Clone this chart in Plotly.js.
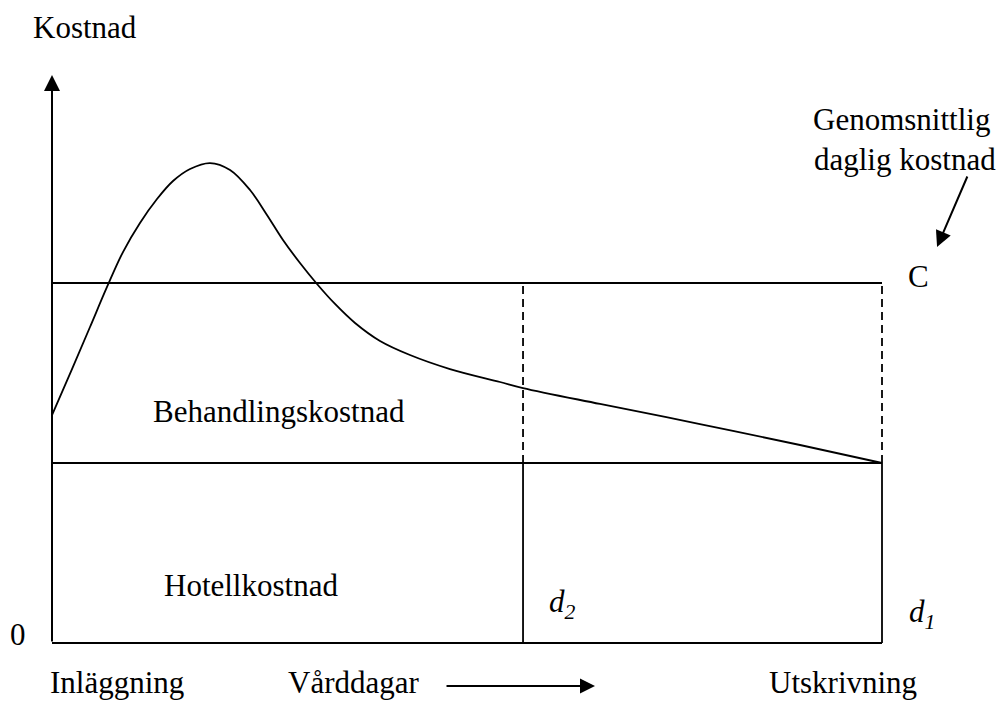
<!DOCTYPE html>
<html>
<head>
<meta charset="utf-8">
<script src="https://cdn.plot.ly/plotly-3.0.1.min.js"></script>
<style>html,body{margin:0;padding:0;background:#fff;}#chart{width:1000px;height:702px;}</style>
</head>
<body>
<div id="chart"></div>
<script>
// ---- data (schematic units: days on x, cost on y) ----
var curveDays = [0, 0.241, 0.458, 0.663, 0.855, 1.060, 1.265, 1.458, 1.663, 1.904, 2.145, 2.386, 2.590, 2.783, 2.988, 3.193, 3.410, 3.651, 3.952, 4.313, 4.795, 5.398, 5.675, 6.602, 7.807, 9.012, 10];
var curveCost = [2.533, 3.044, 3.511, 3.956, 4.344, 4.667, 4.933, 5.133, 5.267, 5.333, 5.256, 5.033, 4.756, 4.478, 4.222, 3.989, 3.767, 3.556, 3.356, 3.2, 3.044, 2.9, 2.833, 2.656, 2.433, 2.2, 2.0];
var dayMarks = [5.675, 10];          // d2, d1
var dayLabels = ['<i>d<sub>2</sub></i>', '<i>d<sub>1</sub></i>'];
var hotelCost = 2;                    // hotel cost level
var avgCost = 4;                      // C, average daily cost
var axisTop = 6.311;                  // top of the cost axis arrow
var xLabels = ['Inläggning', 'Vårddagar', 'Utskrivning'];

// ---- layout helpers (pixel -> paper) ----
var W = 1000, H = 702;
function px(x){ return x / W; }
function py(y){ return 1 - y / H; }
var FONT = {family: 'Liberation Serif, Times New Roman, serif', size: 31, color: '#000'};
var LW = 1.8;

var shapes = [];
function seg(x0, y0, x1, y1, dash){
  shapes.push({type:'line', xref:'x', yref:'y', x0:x0, y0:y0, x1:x1, y1:y1,
    line:{color:'#000', width:LW, dash: dash || 'solid'}});
}
var d1 = dayMarks[1], d2 = dayMarks[0];
seg(0, 0, d1, 0);
seg(0, hotelCost, d1, hotelCost);
seg(0, avgCost, d1, avgCost);
dayMarks.forEach(function(d){
  seg(d, 0, d, hotelCost);
  seg(d, hotelCost, d, avgCost, '8px,5px');
});

function arrow(x, y, ax, ay, size){
  return {x:x, y:y, ax:ax, ay:ay, xref:'x', yref:'y', axref:'x', ayref:'y',
    text:'', showarrow:true, arrowhead:2, arrowsize:size, arrowwidth:2, arrowcolor:'#000',
    standoff:0, startstandoff:0, font:{size:1}};
}
function label(text, cx, base, opts){
  var a = {text:text, x:px(cx), y:py(base - 10.5), xref:'paper', yref:'paper',
    showarrow:false, xanchor:'center', yanchor:'middle', font:FONT};
  if (opts) for (var k in opts) a[k] = opts[k];
  return a;
}

var annotations = [
  arrow(0, axisTop, 0, 0, 1.6),
  arrow(6.542, -0.478, 4.735, -0.478, 1.5),
  arrow(10.663, 4.4, 11.036, 5.2, 1.6),
  label('Kostnad', 84.5, 38),
  label('Genomsnittlig', 901, 130),
  label('daglig kostnad', 904.5, 170),
  label('C', 918, 287),
  label('Behandlingskostnad', 279, 422),
  label('Hotellkostnad', 251, 596),
  label('0', 17.5, 645),
  label(dayLabels[0], 547, 614, {xanchor:'left'}),
  label(dayLabels[1], 907, 624, {xanchor:'left'}),
  label(xLabels[0], 117, 693),
  label(xLabels[1], 353.5, 693),
  label(xLabels[2], 842.5, 693)
];

var traces = [{
  x: curveDays, y: curveCost, type:'scatter', mode:'lines',
  line:{color:'#000', width:LW, shape:'spline', smoothing:1},
  hoverinfo:'skip'
}];

var layout = {
  width: W, height: H,
  margin:{l:0, r:0, t:0, b:0},
  paper_bgcolor:'#fff', plot_bgcolor:'#fff',
  showlegend:false,
  xaxis:{range:[-52/83, 948/83], visible:false, fixedrange:true},
  yaxis:{range:[(643-702)/90, 643/90], visible:false, fixedrange:true},
  shapes: shapes,
  annotations: annotations
};
Plotly.newPlot('chart', traces, layout, {staticPlot:true, displayModeBar:false});
</script>
</body>
</html>
